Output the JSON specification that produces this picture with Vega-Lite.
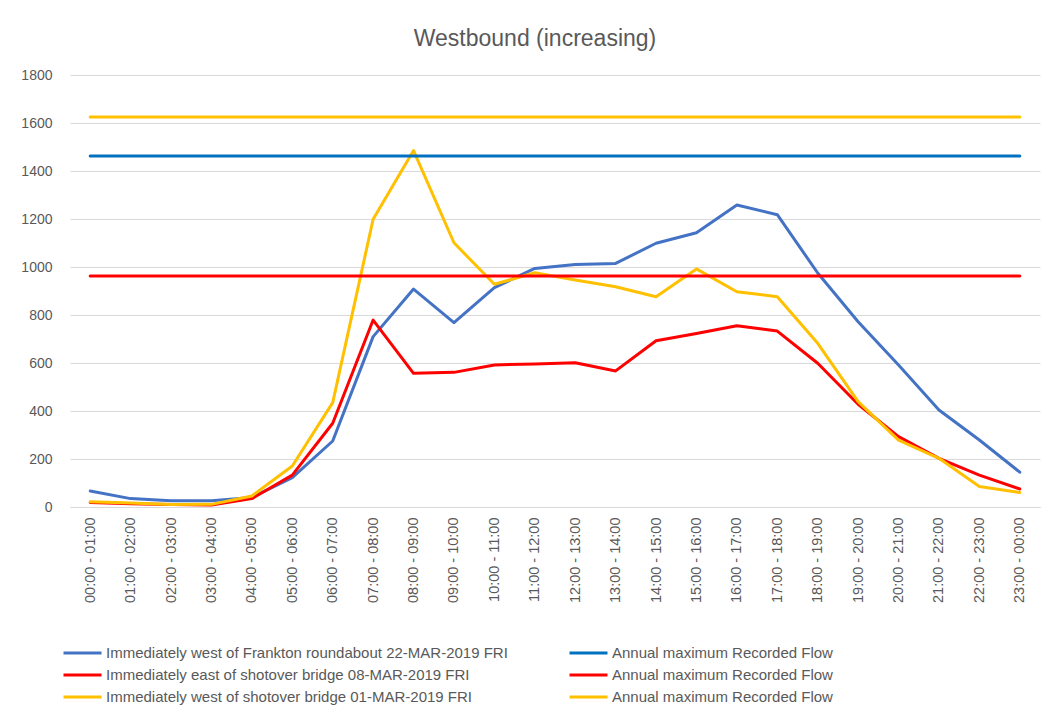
{
  "$schema": "https://vega.github.io/schema/vega-lite/v6.json",
  "width": 970,
  "height": 432,
  "autosize": {"type": "none"},
  "padding": {"left": 70, "top": 75, "right": 15, "bottom": 209},
  "background": "white",
  "title": {
    "text": "Westbound (increasing)",
    "font": "Liberation Sans",
    "fontSize": 23,
    "fontWeight": "normal",
    "color": "#595959",
    "anchor": "middle",
    "frame": "group",
    "dx": -20,
    "offset": 17
  },
  "data": {
    "values": [
      {"hour": "00:00 - 01:00", "a": 67, "b": 19, "c": 22, "ma": 1462, "mb": 963, "mc": 1625},
      {"hour": "01:00 - 02:00", "a": 35, "b": 14, "c": 17, "ma": 1462, "mb": 963, "mc": 1625},
      {"hour": "02:00 - 03:00", "a": 26, "b": 10, "c": 10, "ma": 1462, "mb": 963, "mc": 1625},
      {"hour": "03:00 - 04:00", "a": 26, "b": 8, "c": 11, "ma": 1462, "mb": 963, "mc": 1625},
      {"hour": "04:00 - 05:00", "a": 40, "b": 35, "c": 46, "ma": 1462, "mb": 963, "mc": 1625},
      {"hour": "05:00 - 06:00", "a": 122, "b": 133, "c": 171, "ma": 1462, "mb": 963, "mc": 1625},
      {"hour": "06:00 - 07:00", "a": 275, "b": 349, "c": 435, "ma": 1462, "mb": 963, "mc": 1625},
      {"hour": "07:00 - 08:00", "a": 710, "b": 779, "c": 1199, "ma": 1462, "mb": 963, "mc": 1625},
      {"hour": "08:00 - 09:00", "a": 908, "b": 557, "c": 1485, "ma": 1462, "mb": 963, "mc": 1625},
      {"hour": "09:00 - 10:00", "a": 768, "b": 561, "c": 1101, "ma": 1462, "mb": 963, "mc": 1625},
      {"hour": "10:00 - 11:00", "a": 914, "b": 592, "c": 928, "ma": 1462, "mb": 963, "mc": 1625},
      {"hour": "11:00 - 12:00", "a": 994, "b": 596, "c": 976, "ma": 1462, "mb": 963, "mc": 1625},
      {"hour": "12:00 - 13:00", "a": 1010, "b": 601, "c": 946, "ma": 1462, "mb": 963, "mc": 1625},
      {"hour": "13:00 - 14:00", "a": 1015, "b": 567, "c": 918, "ma": 1462, "mb": 963, "mc": 1625},
      {"hour": "14:00 - 15:00", "a": 1099, "b": 693, "c": 876, "ma": 1462, "mb": 963, "mc": 1625},
      {"hour": "15:00 - 16:00", "a": 1143, "b": 723, "c": 992, "ma": 1462, "mb": 963, "mc": 1625},
      {"hour": "16:00 - 17:00", "a": 1258, "b": 755, "c": 897, "ma": 1462, "mb": 963, "mc": 1625},
      {"hour": "17:00 - 18:00", "a": 1218, "b": 733, "c": 876, "ma": 1462, "mb": 963, "mc": 1625},
      {"hour": "18:00 - 19:00", "a": 975, "b": 599, "c": 682, "ma": 1462, "mb": 963, "mc": 1625},
      {"hour": "19:00 - 20:00", "a": 772, "b": 428, "c": 439, "ma": 1462, "mb": 963, "mc": 1625},
      {"hour": "20:00 - 21:00", "a": 592, "b": 293, "c": 279, "ma": 1462, "mb": 963, "mc": 1625},
      {"hour": "21:00 - 22:00", "a": 404, "b": 203, "c": 203, "ma": 1462, "mb": 963, "mc": 1625},
      {"hour": "22:00 - 23:00", "a": 279, "b": 133, "c": 85, "ma": 1462, "mb": 963, "mc": 1625},
      {"hour": "23:00 - 00:00", "a": 145, "b": 75, "c": 60, "ma": 1462, "mb": 963, "mc": 1625}
    ]
  },
  "transform": [
    {"fold": ["a", "b", "c", "ma", "mb", "mc"], "as": ["key", "value"]},
    {"lookup": "key", "from": {"data": {"values": [
      {"key": "a", "series": "Immediately west of Frankton roundabout 22-MAR-2019 FRI", "ord": 0},
      {"key": "b", "series": "Immediately east of shotover bridge 08-MAR-2019 FRI", "ord": 1},
      {"key": "c", "series": "Immediately west of shotover bridge 01-MAR-2019 FRI", "ord": 2},
      {"key": "ma", "series": "Annual maximum Recorded Flow 1", "ord": 3},
      {"key": "mb", "series": "Annual maximum Recorded Flow 2", "ord": 4},
      {"key": "mc", "series": "Annual maximum Recorded Flow 3", "ord": 5}
    ]}, "key": "key", "fields": ["series", "ord"]}}
  ],
  "mark": {"type": "line", "strokeWidth": 3, "strokeCap": "round", "strokeJoin": "round"},
  "encoding": {
    "x": {
      "field": "hour",
      "type": "nominal",
      "sort": null,
      "scale": {"paddingInner": 0, "paddingOuter": 0.5},
      "axis": {
        "title": null,
        "labelAngle": -90,
        "labelFont": "Liberation Sans",
        "labelFontSize": 14.5,
        "labelColor": "#595959",
        "labelPadding": 10,
        "ticks": false,
        "domainColor": "#D9D9D9",
        "domainWidth": 1,
        "grid": false
      }
    },
    "y": {
      "field": "value",
      "type": "quantitative",
      "scale": {"domain": [0, 1800], "nice": false},
      "axis": {
        "title": null,
        "format": "d",
        "values": [0, 200, 400, 600, 800, 1000, 1200, 1400, 1600, 1800],
        "labelFont": "Liberation Sans",
        "labelFontSize": 14,
        "labelColor": "#595959",
        "labelPadding": 18,
        "ticks": false,
        "domain": false,
        "gridColor": "#D9D9D9",
        "gridWidth": 1
      }
    },
    "color": {
      "field": "series",
      "type": "nominal",
      "sort": {"field": "ord"},
      "scale": {
        "domain": [
          "Immediately west of Frankton roundabout 22-MAR-2019 FRI",
          "Immediately east of shotover bridge 08-MAR-2019 FRI",
          "Immediately west of shotover bridge 01-MAR-2019 FRI",
          "Annual maximum Recorded Flow 1",
          "Annual maximum Recorded Flow 2",
          "Annual maximum Recorded Flow 3"
        ],
        "range": ["#4472C4", "#FF0000", "#FFC000", "#0070C0", "#FF0000", "#FFC000"]
      },
      "legend": {
        "title": null,
        "orient": "none",
        "legendX": -8,
        "legendY": 567,
        "columns": 2,
        "columnPadding": 55,
        "rowPadding": 3,
        "symbolType": "M-1,0H3",
        "symbolSize": 361,
        "symbolStrokeWidth": 3,
        "symbolOffset": 0,
        "labelOffset": 22,
        "labelFont": "Liberation Sans",
        "labelFontSize": 15,
        "labelColor": "#595959",
        "labelLimit": 600,
        "labelExpr": "indexof(datum.label, 'Annual maximum') == 0 ? 'Annual maximum Recorded Flow' : datum.label"
      }
    },
    "order": {"field": "ord"}
  },
  "config": {"view": {"stroke": null}}
}
